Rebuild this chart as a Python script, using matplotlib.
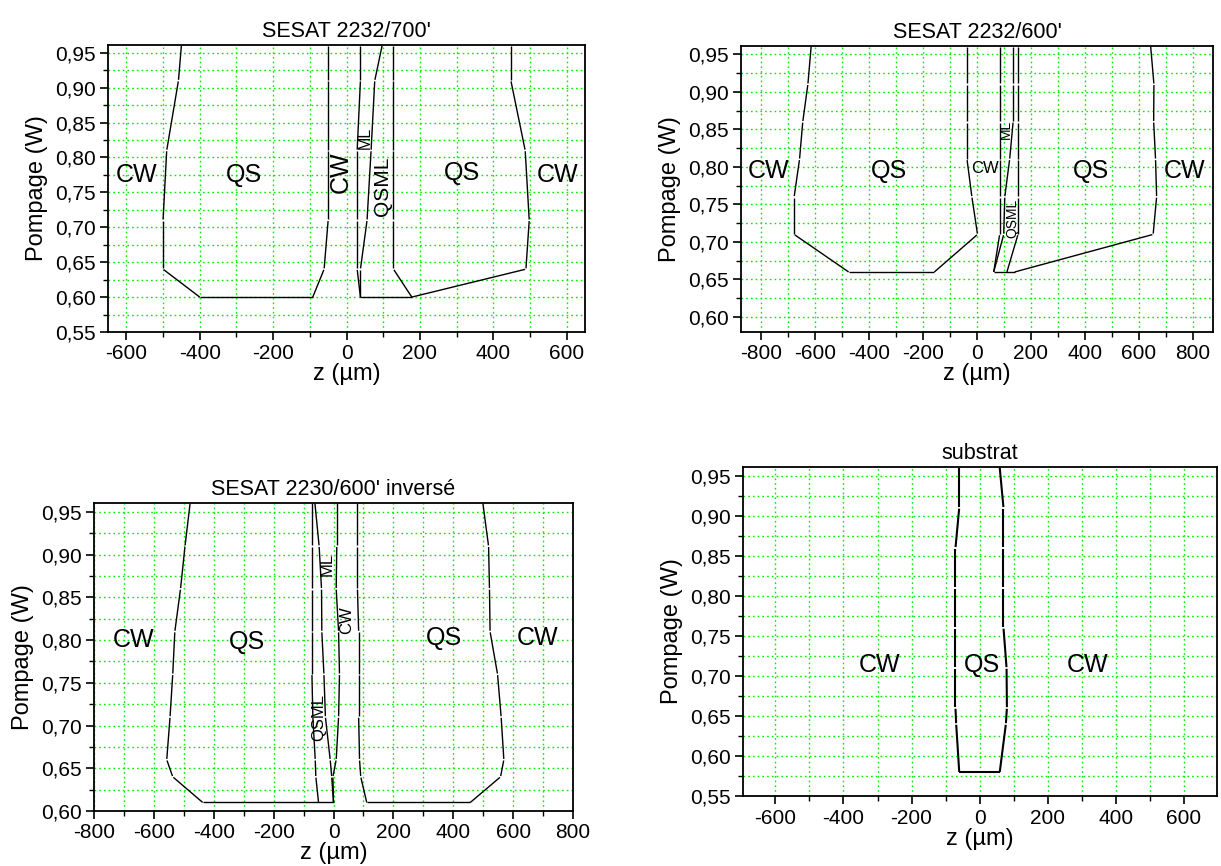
import matplotlib
matplotlib.use("Agg")
import matplotlib.pyplot as plt
import numpy as np
from matplotlib.ticker import MultipleLocator, FuncFormatter

plt.rcParams['font.family'] = ['Liberation Sans', 'DejaVu Sans']

# ---------------- Panel 1 : SESAT 2232/700' ----------------
p1_qs_left_z = [-450, -458, -490, -500, -500, -400, -92, -61, -50, -50, -50, -50]
p1_qs_left_y = [0.96, 0.91, 0.81, 0.71, 0.64, 0.60, 0.60, 0.64, 0.71, 0.81, 0.91, 0.96]
p1_ml_left_z = [38, 38, 29, 29, 29, 38]
p1_ml_left_y = [0.96, 0.91, 0.81, 0.71, 0.64, 0.60]
p1_ml_right_z = [97, 77, 67, 56, 38, 38]
p1_ml_right_y = [0.96, 0.91, 0.81, 0.71, 0.64, 0.60]
p1_qsml_right_z = [128, 128, 128, 128, 128, 178]
p1_qsml_right_y = [0.96, 0.91, 0.81, 0.71, 0.64, 0.60]
p1_qs_right_z = [38, 178, 489, 498, 487, 448, 448]
p1_qs_right_y = [0.60, 0.60, 0.64, 0.71, 0.81, 0.91, 0.96]

# ---------------- Panel 2 : SESAT 2232/600' ----------------
p2_qs_left_z = [-615, -627, -646, -658, -678, -678, -476, -158, 2, -19, -37, -37, -37, -37]
p2_qs_left_y = [0.96, 0.91, 0.86, 0.81, 0.76, 0.71, 0.66, 0.66, 0.71, 0.76, 0.81, 0.86, 0.91, 0.96]
p2_ml_left_z = [84, 84, 84, 84, 84, 84, 62]
p2_ml_left_y = [0.96, 0.91, 0.86, 0.81, 0.76, 0.71, 0.66]
p2_ml_right_z = [134, 134, 134, 121, 103, 99, 62]
p2_ml_right_y = [0.96, 0.91, 0.86, 0.81, 0.76, 0.71, 0.66]
p2_qsml_right_z = [152, 152, 152, 152, 152, 152, 111]
p2_qsml_right_y = [0.96, 0.91, 0.86, 0.81, 0.76, 0.71, 0.66]
p2_qs_right_z = [62, 140, 653, 666, 662, 655, 656, 644]
p2_qs_right_y = [0.66, 0.66, 0.71, 0.76, 0.81, 0.86, 0.91, 0.96]

# ---------------- Panel 3 : SESAT 2230/600' inversé ----------------
p3_levels = [0.96, 0.91, 0.86, 0.81, 0.76, 0.71, 0.66, 0.64, 0.61]
p3_qs_left_z = [-479, -496, -511, -530, -537, -546, -557, -537, -437, 0]
p3_qs_left_y = [0.96, 0.91, 0.86, 0.81, 0.76, 0.71, 0.66, 0.64, 0.61, 0.61]
p3_qsml_left_z = [-72, -72, -72, -72, -72, -69, -61, -59, -50]
p3_ml_left_z = [-62, -48, -40, -39, -32, -27, -11, -6, 0]
p3_ml_right_z = [11, 11, 9, 17, 20, 17, 9, -2, 0]
p3_qs_right_z = [80, 80, 80, 84, 84, 84, 87, 91, 111, 457, 558, 569, 560, 548, 523, 521, 518, 499]
p3_qs_right_y = [0.96, 0.91, 0.86, 0.81, 0.76, 0.71, 0.66, 0.64, 0.61,
                 0.61, 0.64, 0.66, 0.71, 0.76, 0.81, 0.86, 0.91, 0.96]

# ---------------- Panel 4 : substrat ----------------
p4_qs_z = [-60, -60, -71, -71, -71, -71, -71, -69, -60, 59, 77, 80, 79, 70, 70, 70, 70, 59]
p4_qs_y = [0.96, 0.91, 0.86, 0.81, 0.76, 0.71, 0.66, 0.64, 0.58,
           0.58, 0.64, 0.66, 0.71, 0.76, 0.81, 0.86, 0.91, 0.96]

titles = ["SESAT 2232/700'", "SESAT 2232/600'", "SESAT 2230/600' inversé", "substrat"]

W, H = 1221, 866
fig = plt.figure(figsize=(W / 100, H / 100), dpi=100)

def ax_px(l, r, t, b):
    return fig.add_axes([l / W, 1 - b / H, (r - l) / W, (b - t) / H])

def fmt_y(v, pos):
    return f"{v:.2f}".replace('.', ',')

def fmt_x(v, pos):
    return f"{v:.0f}"

def style(ax, xlim, ylim, xmaj, title):
    ax.set_xlim(*xlim)
    ax.set_ylim(*ylim)
    ax.xaxis.set_major_locator(MultipleLocator(xmaj))
    ax.xaxis.set_minor_locator(MultipleLocator(100))
    ax.yaxis.set_major_locator(MultipleLocator(0.05))
    ax.yaxis.set_minor_locator(MultipleLocator(0.025))
    ax.yaxis.set_major_formatter(FuncFormatter(fmt_y))
    ax.xaxis.set_major_formatter(FuncFormatter(fmt_x))
    ax.grid(True, which='both', color='#00ee00', linestyle=(0, (1.2, 2.2)), linewidth=1.0)
    ax.set_axisbelow(True)
    ax.tick_params(which='major', direction='out', length=6, width=1.2, labelsize=15, pad=3)
    ax.tick_params(which='minor', direction='out', length=3.5, width=1.0)
    ax.tick_params(top=False, right=False)
    for s in ax.spines.values():
        s.set_linewidth(1.3)
    ax.set_xlabel("z (\u00b5m)", fontsize=17, labelpad=0)
    ax.set_ylabel("Pompage (W)", fontsize=17, labelpad=5)
    ax.set_title(title, fontsize=15.5, pad=6)

K = 'black'

def boundary(ax, z, y, lw=1.0, gap=0.8):
    """Origin-like polyline: tiny breaks at nodes joining two non-horizontal segments."""
    pts = ax.transData.transform(np.column_stack([z, y]))
    inv = ax.transData.inverted()
    n = len(pts)
    horiz = [abs(pts[i + 1][1] - pts[i][1]) < 0.5 for i in range(n - 1)]
    for i in range(n - 1):
        a, b = pts[i].copy(), pts[i + 1].copy()
        d = b - a
        L = np.hypot(*d)
        if L == 0:
            continue
        u = d / L
        if i > 0 and not horiz[i] and not horiz[i - 1]:
            a = a + u * gap
        if i < n - 2 and not horiz[i] and not horiz[i + 1]:
            b = b - u * gap
        seg = inv.transform(np.array([a, b]))
        ax.plot(seg[:, 0], seg[:, 1], color=K, lw=lw, solid_capstyle='butt')

# Panel 1
ax1 = ax_px(108, 585, 45, 332)
style(ax1, (-650, 650), (0.55, 0.961), 200, titles[0])
boundary(ax1, p1_qs_left_z, p1_qs_left_y)
boundary(ax1, p1_ml_left_z, p1_ml_left_y)
boundary(ax1, p1_ml_right_z, p1_ml_right_y)
boundary(ax1, p1_qsml_right_z, p1_qsml_right_y)
boundary(ax1, p1_qs_right_z, p1_qs_right_y)
ax1.text(-571, 0.775, "CW", fontsize=18, ha='center', va='center')
ax1.text(-280, 0.775, "QS", fontsize=18, ha='center', va='center')
ax1.text(-15, 0.779, "CW", fontsize=18, ha='center', va='center', rotation=90)
ax1.text(52, 0.828, "ML", fontsize=11.5, ha='center', va='center', rotation=90)
ax1.text(97, 0.758, "QSML", fontsize=15, ha='center', va='center', rotation=90)
ax1.text(316, 0.777, "QS", fontsize=18, ha='center', va='center')
ax1.text(575, 0.775, "CW", fontsize=18, ha='center', va='center')

# Panel 2
ax2 = ax_px(741, 1213, 46, 332)
style(ax2, (-875, 875), (0.58, 0.961), 200, titles[1])
boundary(ax2, p2_qs_left_z, p2_qs_left_y)
boundary(ax2, p2_ml_left_z, p2_ml_left_y)
boundary(ax2, p2_ml_right_z, p2_ml_right_y)
boundary(ax2, p2_qsml_right_z, p2_qsml_right_y)
boundary(ax2, p2_qs_right_z, p2_qs_right_y)
ax2.text(-773, 0.795, "CW", fontsize=18, ha='center', va='center')
ax2.text(-328, 0.795, "QS", fontsize=18, ha='center', va='center')
ax2.text(31, 0.798, "CW", fontsize=12, ha='center', va='center')
ax2.text(108, 0.850, "ML", fontsize=10, ha='center', va='center', rotation=90)
ax2.text(132, 0.731, "QSML", fontsize=10, ha='center', va='center', rotation=90)
ax2.text(423, 0.795, "QS", fontsize=18, ha='center', va='center')
ax2.text(770, 0.795, "CW", fontsize=18, ha='center', va='center')

# Panel 3
ax3 = ax_px(94, 573, 503, 811)
style(ax3, (-800, 800), (0.60, 0.9605), 200, titles[2])
boundary(ax3, p3_qs_left_z, p3_qs_left_y)
boundary(ax3, p3_qsml_left_z, p3_levels)
boundary(ax3, p3_ml_left_z, p3_levels)
boundary(ax3, p3_ml_right_z, p3_levels)
boundary(ax3, p3_qs_right_z, p3_qs_right_y)
ax3.text(-669, 0.800, "CW", fontsize=18, ha='center', va='center')
ax3.text(-290, 0.798, "QS", fontsize=18, ha='center', va='center')
ax3.text(-20, 0.889, "ML", fontsize=12, ha='center', va='center', rotation=90)
ax3.text(45, 0.823, "CW", fontsize=12, ha='center', va='center', rotation=90)
ax3.text(-50, 0.710, "QSML", fontsize=12, ha='center', va='center', rotation=90)
ax3.text(368, 0.802, "QS", fontsize=18, ha='center', va='center')
ax3.text(680, 0.802, "CW", fontsize=18, ha='center', va='center')

# Panel 4
ax4 = ax_px(743, 1217, 467, 796)
style(ax4, (-695, 697), (0.55, 0.961), 200, titles[3])
boundary(ax4, p4_qs_z, p4_qs_y, lw=1.5)
ax4.text(-294, 0.714, "CW", fontsize=18, ha='center', va='center')
ax4.text(7, 0.714, "QS", fontsize=18, ha='center', va='center')
ax4.text(317, 0.714, "CW", fontsize=18, ha='center', va='center')

fig.savefig("out.png", dpi=100)
